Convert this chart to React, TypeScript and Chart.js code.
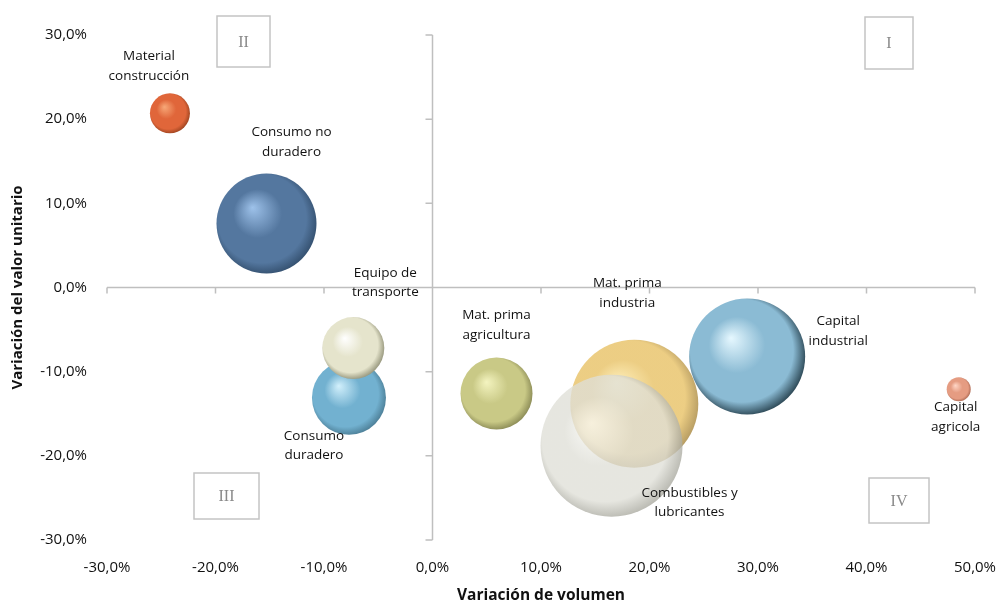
import React, { useEffect, useRef } from "react";
import { Chart, registerables } from "chart.js";

Chart.register(...registerables);

const categories: string[][] = [
  ["Material", "construcción"],
  ["Consumo no", "duradero"],
  ["Consumo", "duradero"],
  ["Equipo de", "transporte"],
  ["Mat. prima", "agricultura"],
  ["Mat. prima", "industria"],
  ["Combustibles y", "lubricantes"],
  ["Capital", "industrial"],
  ["Capital", "agricola"],
];
const volumeVar: number[] = [-24.2, -15.3, -7.7, -7.3, 5.9, 18.6, 16.5, 29.0, 48.5];
const unitValueVar: number[] = [20.7, 7.6, -13.1, -7.2, -12.6, -13.8, -18.8, -8.2, -12.1];
const bubbleSize: number[] = [20, 50, 37, 31, 36, 64, 71, 58, 12];
const xTicks: number[] = [-30, -20, -10, 0, 10, 20, 30, 40, 50];
const yTicks: number[] = [-30, -20, -10, 0, 10, 20, 30];
const quadrants: string[] = ["I", "II", "III", "IV"];

// styles
const palette = [
  { light: "#F7A878", base: "#E0663A", dark: "#9E4420", alpha: 1 },
  { light: "#9EC2EA", base: "#54779F", dark: "#34506F", alpha: 1 },
  { light: "#D2F0FC", base: "#72B1D0", dark: "#4C7E96", alpha: 1 },
  { light: "#FFFFFF", base: "#E5E4CC", dark: "#94947A", alpha: 1 },
  { light: "#F4F4C0", base: "#C9C986", dark: "#8A8A55", alpha: 1 },
  { light: "#FFEDB0", base: "#E9C56E", dark: "#A98A46", alpha: 0.85 },
  { light: "#FAFAF6", base: "#DFDFD7", dark: "#A5A59B", alpha: 0.78 },
  { light: "#E6F8FF", base: "#8BBBD4", dark: "#2A4552", alpha: 1 },
  { light: "#FFD6C6", base: "#E59C82", dark: "#AE6A54", alpha: 1 },
];
const labelOffsets = [
  [-21, -57], [25, -91], [-35, 38], [32, -75], [0, -78],
  [-7, -120], [78, 47], [91, -35], [-3, 18],
];
const quadrantBoxes = [
  { x: 865, y: 17, w: 48, h: 52 },
  { x: 217, y: 16, w: 53, h: 51 },
  { x: 194, y: 473, w: 65, h: 46 },
  { x: 869, y: 478, w: 60, h: 45 },
];

const fmt = (v: number) => `${v.toFixed(1).replace(".", ",")}%`;

function hexToRgba(hex: string, a: number) {
  const n = parseInt(hex.slice(1), 16);
  return `rgba(${(n >> 16) & 255},${(n >> 8) & 255},${n & 255},${a})`;
}

const originAxes = {
  id: "originAxes",
  beforeDatasetsDraw(chart: any) {
    const { ctx, chartArea, scales } = chart;
    const x0 = scales.x.getPixelForValue(0);
    const y0 = scales.y.getPixelForValue(0);
    ctx.save();
    ctx.strokeStyle = "#BFBFBF";
    ctx.lineWidth = 1.5;
    ctx.beginPath();
    ctx.moveTo(chartArea.left, y0);
    ctx.lineTo(chartArea.right, y0);
    ctx.moveTo(x0, chartArea.top);
    ctx.lineTo(x0, chartArea.bottom);
    xTicks.forEach((t) => {
      const px = scales.x.getPixelForValue(t);
      ctx.moveTo(px, y0);
      ctx.lineTo(px, y0 + 6);
    });
    yTicks.forEach((t) => {
      const py = scales.y.getPixelForValue(t);
      ctx.moveTo(x0 - 7, py);
      ctx.lineTo(x0, py);
    });
    ctx.stroke();
    // quadrant boxes
    ctx.lineWidth = 1.5;
    ctx.strokeStyle = "#C4C4C4";
    ctx.fillStyle = "#8A8A8A";
    ctx.font = '16px "Liberation Serif"';
    ctx.textAlign = "center";
    ctx.textBaseline = "middle";
    quadrantBoxes.forEach((b, i) => {
      ctx.strokeRect(b.x, b.y, b.w, b.h);
      ctx.fillText(quadrants[i], b.x + b.w / 2, b.y + b.h / 2 + 1);
    });
    ctx.restore();
  },
  afterDatasetsDraw(chart: any) {
    const { ctx, scales } = chart;
    ctx.save();
    ctx.fillStyle = "#111";
    ctx.font = '13.5px "Open Sans"';
    ctx.textAlign = "center";
    ctx.textBaseline = "middle";
    categories.forEach((lines, i) => {
      const px = scales.x.getPixelForValue(volumeVar[i]) + labelOffsets[i][0];
      const py = scales.y.getPixelForValue(unitValueVar[i]) + labelOffsets[i][1];
      lines.forEach((l, j) => ctx.fillText(l, px, py + j * 19.5));
    });
    ctx.restore();
  },
};

export default function App() {
  const ref = useRef<HTMLCanvasElement>(null);
  useEffect(() => {
    if (!ref.current) return;
    const chart = new Chart(ref.current, {
      type: "bubble",
      data: {
        datasets: [
          {
            data: volumeVar.map((x, i) => ({ x, y: unitValueVar[i], r: bubbleSize[i] })),
            borderWidth: 0,
            clip: false,
            backgroundColor: (c: any) => {
              const i = c.dataIndex;
              const p = palette[i];
              const ch = c.chart;
              if (!ch.chartArea || i === undefined) return p.base;
              const raw = c.raw;
              const x = ch.scales.x.getPixelForValue(raw.x);
              const y = ch.scales.y.getPixelForValue(raw.y);
              const r = raw.r;
              const g = ch.ctx.createRadialGradient(x - 0.28 * r, y - 0.32 * r, 0, x - 0.05 * r, y - 0.05 * r, r * 1.08);
              g.addColorStop(0, hexToRgba(p.light, p.alpha));
              g.addColorStop(0.45, hexToRgba(p.base, p.alpha));
              g.addColorStop(0.82, hexToRgba(p.base, p.alpha));
              g.addColorStop(1, hexToRgba(p.dark, p.alpha));
              return g;
            },
          } as any,
        ],
      },
      options: {
        animation: false,
        responsive: true,
        maintainAspectRatio: false,
        events: [],
        layout: { autoPadding: false, padding: { left: 7, right: 25, top: 35, bottom: 0 } },
        plugins: { legend: { display: false }, tooltip: { enabled: false } },
        scales: {
          x: {
            type: "linear",
            min: -30,
            max: 50,
            afterFit: (s: any) => {
              s.height = 63;
              s.paddingLeft = 0;
              s.paddingRight = 0;
            },
            grid: { display: false },
            border: { display: false },
            ticks: {
              stepSize: 10,
              padding: 11,
              color: "#111",
              font: { family: "Open Sans", size: 15 },
              callback: (v: any) => fmt(Number(v)),
            },
            title: {
              display: true,
              text: "Variación de volumen",
              color: "#111",
              font: { family: "Open Sans", size: 15.5, weight: "bold" },
              padding: { top: 0, bottom: -2 },
            },
          },
          y: {
            type: "linear",
            min: -30,
            max: 30,
            afterFit: (s: any) => {
              s.width = 100;
              s.paddingTop = 0;
              s.paddingBottom = 0;
            },
            grid: { display: false },
            border: { display: false },
            ticks: {
              stepSize: 10,
              padding: 12,
              color: "#111",
              font: { family: "Open Sans", size: 15 },
              callback: (v: any) => fmt(Number(v)),
            },
            title: {
              display: true,
              text: "Variación del valor unitario",
              color: "#111",
              font: { family: "Open Sans", size: 15, weight: "bold" },
              padding: { top: 2, bottom: 0 },
            },
          },
        },
      },
      plugins: [originAxes],
    });
    return () => chart.destroy();
  }, []);
  return (
    <div style={{ position: "fixed", left: 0, top: 0, width: 1000, height: 603, background: "#fff" }}>
      <canvas ref={ref} />
    </div>
  );
}
